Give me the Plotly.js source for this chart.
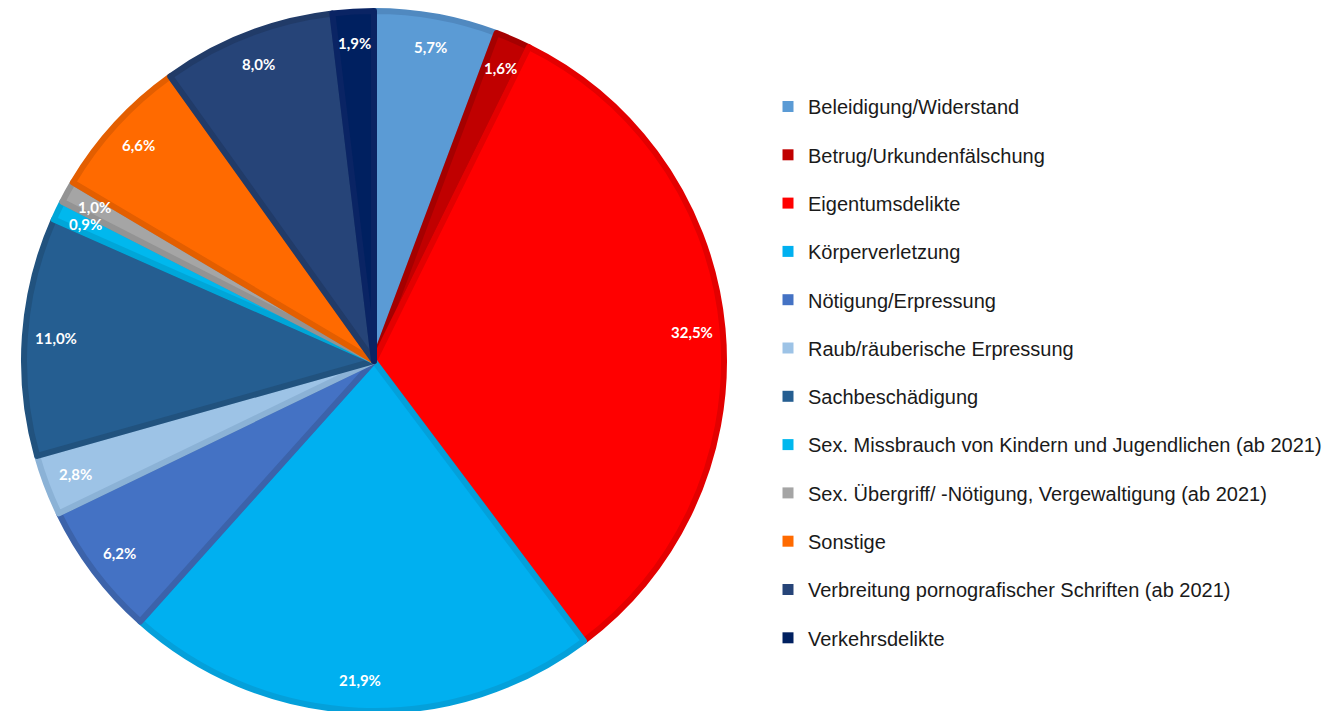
<!DOCTYPE html>
<html>
<head>
<meta charset="utf-8">
<script src="https://cdn.plot.ly/plotly-3.0.1.min.js"></script>
<style>html,body{margin:0;padding:0;background:#fff;}#chart{width:1342px;height:711px;}</style>
</head>
<body>
<div id="chart"></div>
<script>
const categories = [
  "Beleidigung/Widerstand",
  "Betrug/Urkundenfälschung",
  "Eigentumsdelikte",
  "Körperverletzung",
  "Nötigung/Erpressung",
  "Raub/räuberische Erpressung",
  "Sachbeschädigung",
  "Sex. Missbrauch von Kindern und Jugendlichen (ab 2021)",
  "Sex. Übergriff/ -Nötigung, Vergewaltigung (ab 2021)",
  "Sonstige",
  "Verbreitung pornografischer Schriften (ab 2021)",
  "Verkehrsdelikte"
];
const shares = [5.7, 1.6, 32.5, 21.9, 6.2, 2.8, 11.0, 0.9, 1.0, 6.6, 8.0, 1.9];
const fillColors = ["#5B9BD5","#C00000","#FF0000","#00B0F0","#4472C4","#9DC3E6","#255E91","#00B8EE","#A5A5A5","#FF6A00","#264478","#002060"];
const borderColors = ["#5089C0","#A50000","#E30000","#04A0DA","#3C63AA","#8BB2D6","#21527E","#00A6D8","#939393","#E35E00","#213B68","#0A2464"];

const W = 1342, H = 711;
const cx = 374, cy = 361, R = 350, labelR = 319;

const pie = {
  type: "pie",
  labels: categories,
  values: shares,
  sort: false,
  direction: "clockwise",
  rotation: 0,
  textinfo: "none",
  hoverinfo: "label+percent",
  showlegend: false,
  marker: { colors: fillColors, line: { color: borderColors, width: 6 } },
  domain: { x: [(cx - R) / W, (cx + R) / W], y: [1 - (cy + R) / H, 1 - (cy - R) / H] }
};

const legendTraces = categories.map((c, i) => ({
  type: "scatter",
  mode: "markers",
  x: [null], y: [null],
  name: c,
  legendgroup: "g" + i,
  showlegend: true,
  marker: { symbol: "square", size: 11, color: fillColors[i] },
  hoverinfo: "skip"
}));

const total = shares.reduce((a, b) => a + b, 0);
let cum = 0;
const annotations = shares.map((v) => {
  const mid = (cum + v / 2) / total;
  cum += v;
  const th = mid * 2 * Math.PI;
  const px = cx + labelR * Math.sin(th);
  const py = cy - labelR * Math.cos(th);
  return {
    xref: "paper", yref: "paper",
    x: px / W, y: 1 - py / H,
    xanchor: "center", yanchor: "middle",
    text: v.toFixed(1).replace(".", ",") + "%",
    showarrow: false,
    font: { family: "Lato, 'Open Sans', sans-serif", size: 15, color: "#ffffff", weight: "bold" }
  };
});

const layout = {
  width: W, height: H,
  margin: { l: 0, r: 0, t: 0, b: 0 },
  paper_bgcolor: "#ffffff",
  plot_bgcolor: "rgba(0,0,0,0)",
  xaxis: { visible: false, domain: [0.6, 0.61] },
  yaxis: { visible: false, domain: [0.6, 0.61] },
  showlegend: true,
  legend: {
    x: 768 / W, xanchor: "left",
    y: 1 - 87 / H, yanchor: "top",
    font: { family: "'Liberation Sans', Arial, sans-serif", size: 20, color: "#1a1a1a" },
    tracegroupgap: 19.3,
    itemclick: false, itemdoubleclick: false,
    bgcolor: "rgba(0,0,0,0)"
  },
  annotations: annotations
};

Plotly.newPlot("chart", [pie].concat(legendTraces), layout, { displayModeBar: false, staticPlot: true });
</script>
</body>
</html>
